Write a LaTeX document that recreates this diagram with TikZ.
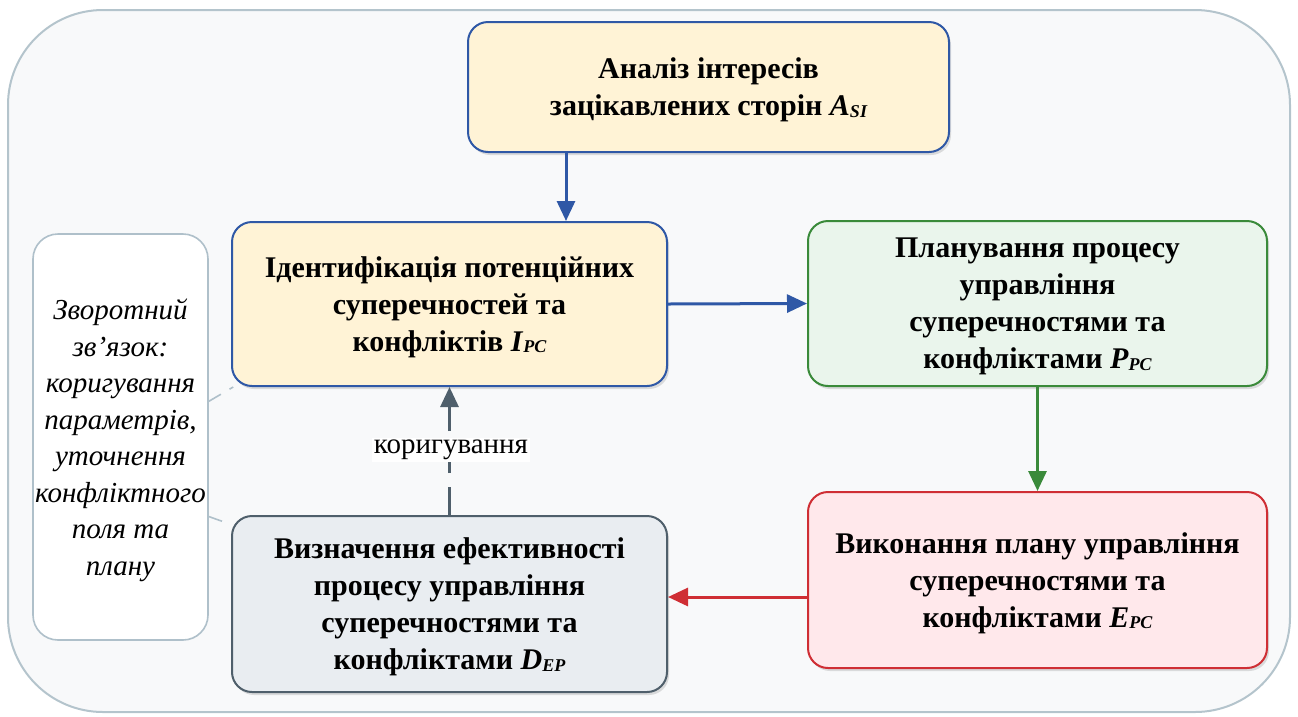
\documentclass[tikz,border=0pt]{standalone}
\usepackage{fontspec}
\setmainfont{Liberation Serif}
\usetikzlibrary{arrows.meta,shadows}

\definecolor{panelbg}{HTML}{F8F9FA}
\definecolor{panelline}{HTML}{B4C4CC}
\definecolor{creamfill}{HTML}{FFF3D6}
\definecolor{blueline}{HTML}{2F58A6}
\definecolor{greenfill}{HTML}{EAF5EC}
\definecolor{greenline}{HTML}{3A8A3A}
\definecolor{redfill}{HTML}{FFE8EB}
\definecolor{redline}{HTML}{CF2E34}
\definecolor{slatefill}{HTML}{E9EDF1}
\definecolor{slateline}{HTML}{4F5F6B}
\definecolor{noteline}{HTML}{AFC0CA}

% italic symbol with a small italic index
\newcommand{\idx}[2]{\textit{#1}\raisebox{-1.5pt}{\fontsize{18}{18}\selectfont\itshape #2}}

\tikzset{
  stagebox/.style={draw, rounded corners=20pt, line width=2pt, align=center,
    font=\fontsize{30}{37}\selectfont\bfseries, inner sep=0pt, text depth=0pt,
    drop shadow={opacity=0.25, shadow xshift=2pt, shadow yshift=-3pt}},
  flow/.style={line width=3pt, -{Triangle[length=20pt,width=18pt]}},
  notelink/.style={draw=noteline, line width=1.6pt, dash pattern=on 14pt off 10pt},
}

\begin{document}
\begin{tikzpicture}[x=1pt, y=-1pt]
\useasboundingbox (0,0) rectangle (1298,716);

% outer panel
\draw[fill=panelbg, draw=panelline, line width=2pt, rounded corners=95pt]
  (8,10) rectangle (1290,712);

% stages
\node[stagebox, draw=blueline, fill=creamfill, minimum width=481pt, minimum height=130pt]
  (A) at (708.5,87) {Аналіз інтересів\\ зацікавлених сторін \idx{A}{SI}};
\node[stagebox, draw=blueline, fill=creamfill, minimum width=435pt, minimum height=164pt]
  (I) at (449.5,304) {Ідентифікація потенційних\\ суперечностей та\\ конфліктів \idx{I}{PC}};
\node[stagebox, draw=greenline, fill=greenfill, minimum width=459pt, minimum height=165pt]
  (P) at (1037.5,303.5) {Планування процесу\\ управління\\ суперечностями та\\ конфліктами \idx{P}{PC}};
\node[stagebox, draw=redline, fill=redfill, minimum width=459pt, minimum height=176pt]
  (E) at (1037.5,580) {Виконання плану управління\\ суперечностями та\\ конфліктами \idx{E}{PC}};
\node[stagebox, draw=slateline, fill=slatefill, minimum width=435pt, minimum height=176pt]
  (D) at (449.5,604) {Визначення ефективності\\ процесу управління\\ суперечностями та\\ конфліктами \idx{D}{EP}};

% feedback note
\node[draw=noteline, fill=white, line width=1.6pt, rounded corners=25pt,
  minimum width=175pt, minimum height=406pt, inner sep=0pt, align=center, text depth=0pt,
  font=\fontsize{29}{36.5}\selectfont\itshape]
  (note) at (120.5,437) {Зворотний\\ зв’язок:\\ коригування\\ параметрів,\\ уточнення\\ конфліктного\\ поля та\\ плану};

% main flow
\draw[flow, blueline] ([xshift=-142.5pt]A.south) -- ([xshift=116.5pt]I.north);
\draw[flow, blueline] (I.east) -- (P.west);
\draw[flow, greenline] (P.south) -- (E.north);
\draw[flow, redline] ([yshift=-17pt]E.west) -- ([yshift=7pt]D.east);

% correction loop
\draw[line width=3pt, slateline, dash pattern=on 28pt off 14pt,
  -{Triangle[length=20pt,width=18pt]}] (D.north) -- (I.south);
\node[fill=white, inner sep=2pt, font=\fontsize{29}{29}\selectfont] (lbl) at (451,450) {коригування};

% note links
\draw[notelink] (note.22) -- (I.201);
\draw[notelink] (note.-42) -- (D.160);
\end{tikzpicture}
\end{document}
